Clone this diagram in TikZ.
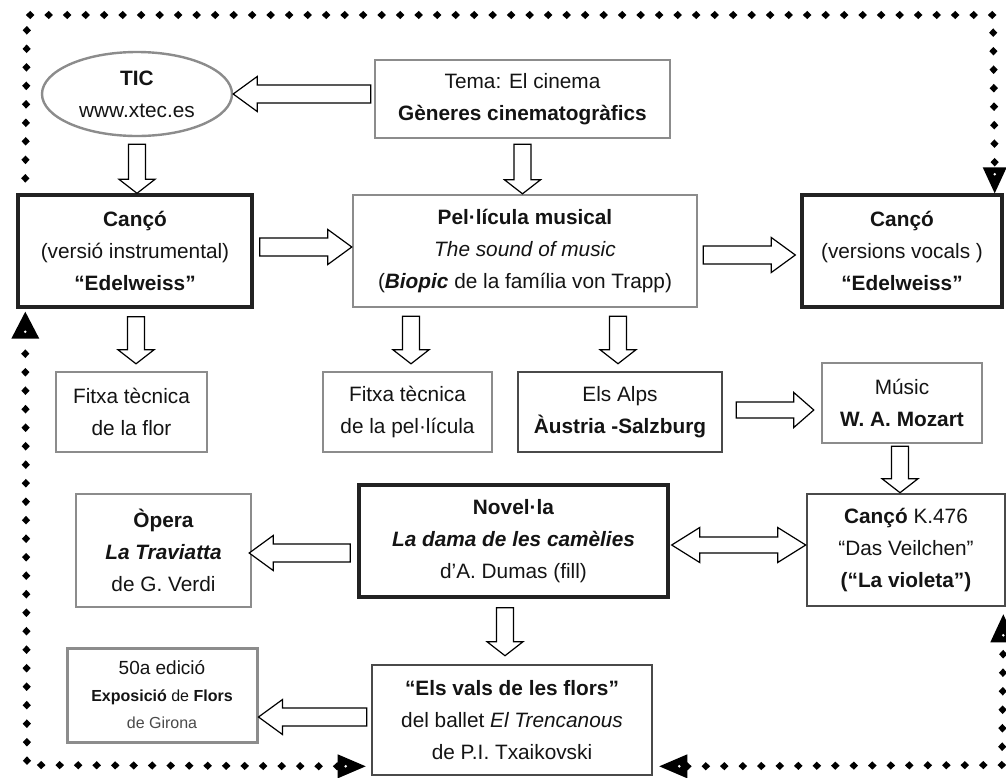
\documentclass[tikz,border=0pt]{standalone}
\usepackage{fontspec}
\setmainfont{Liberation Sans}
\usetikzlibrary{calc,shapes.geometric,decorations.markings}
\definecolor{boxgray}{HTML}{8C8C8C}
\definecolor{boxdark}{HTML}{222222}
\definecolor{boxmid}{HTML}{4A4A4A}
\definecolor{txt}{HTML}{141414}
\begin{document}
\begin{tikzpicture}[x=1pt,y=-1pt,
  every node/.style={inner sep=0pt, align=center, text=txt, font=\fontsize{20.8}{32}\selectfont},
  grbox/.style={draw=boxgray, line width=2.4pt, rectangle},
  dkbox/.style={draw=boxdark, line width=3.4pt, rectangle},
  mdbox/.style={draw=boxmid, line width=2.6pt, rectangle},
  blockarrow/.style n args={3}{draw=black, fill=white, line width=1.2pt, line join=miter,
    to path={let \p1=(\tikztostart), \p2=(\tikztotarget), \p3=($(\p2)!#3!(\p1)$) in
      ($(\p1)!#1!-90:(\p2)$) -- ($(\p3)!#1!-90:(\p2)$) -- ($(\p3)!#2!-90:(\p2)$) -- (\p2)
      -- ($(\p3)!#2!90:(\p2)$) -- ($(\p3)!#1!90:(\p2)$) -- ($(\p1)!#1!90:(\p2)$) -- cycle}},
  harrow/.style={blockarrow={9pt}{17.5pt}{24pt}},
  varrow/.style={blockarrow={8.5pt}{18pt}{14pt}},
  dblarrow/.style={draw=black, fill=white, line width=1.2pt, line join=miter,
    to path={let \p1=(\tikztostart), \p2=(\tikztotarget), \p3=($(\p2)!28pt!(\p1)$), \p4=($(\p1)!28pt!(\p2)$) in
      (\p1) -- ($(\p4)!17.5pt!-90:(\p2)$) -- ($(\p4)!8pt!-90:(\p2)$) -- ($(\p3)!8pt!-90:(\p2)$)
      -- ($(\p3)!17.5pt!-90:(\p2)$) -- (\p2) -- ($(\p3)!17.5pt!90:(\p2)$) -- ($(\p3)!8pt!90:(\p2)$)
      -- ($(\p4)!8pt!90:(\p2)$) -- ($(\p4)!17.5pt!90:(\p2)$) -- cycle}},
  dotline/.style={decorate, decoration={markings,
    mark=between positions 0 and 1 step 18.5pt with {\fill[black] (-4.3pt,0)--(0,4.1pt)--(4.3pt,0)--(0,-4.1pt)--cycle;}}},
  tipfill/.style={fill=black}
]
\useasboundingbox[fill=white] (0,0) rectangle (1006,777);

% nodes
\node[grbox, ellipse, minimum width=190pt, minimum height=84pt] (tic) at (137,94)
  {\textbf{TIC}\\www.xtec.es};
\node[grbox, minimum width=295pt, minimum height=78pt] (tema) at (522.5,99)
  {Tema: El cinema\\\textbf{Gèneres cinematogràfics}};
\node[dkbox, minimum width=234pt, minimum height=112pt] (cancoL) at (135,251)
  {\textbf{Cançó}\\(versió instrumental)\\\textbf{“Edelweiss”}};
\node[grbox, minimum width=344pt, minimum height=112pt] (pel) at (525,251)
  {\textbf{Pel·lícula musical}\\\textit{The sound of music}\\(\textbf{\textit{Biopic}} de la família von Trapp)};
\node[dkbox, minimum width=200pt, minimum height=112pt] (cancoR) at (902,251)
  {\textbf{Cançó}\\(versions vocals )\\\textbf{“Edelweiss”}};
\node[grbox, minimum width=151pt, minimum height=80pt] (fflor) at (131.5,412)
  {Fitxa tècnica\\de la flor};
\node[grbox, minimum width=169pt, minimum height=80pt] (fpel) at (407.5,412)
  {Fitxa tècnica\\de la pel·lícula};
\node[mdbox, minimum width=204pt, minimum height=80pt] (alps) at (620,412)
  {Els Alps\\\textbf{Àustria -Salzburg}};
\node[grbox, minimum width=160pt, minimum height=80pt] (music) at (902,403)
  {Músic\\\textbf{W. A. Mozart}};
\node[mdbox, minimum width=198pt, minimum height=112pt] (k476) at (906,550)
  {\textbf{Cançó} K.476\\“Das Veilchen”\\\textbf{(“La violeta”)}};
\node[dkbox, minimum width=309pt, minimum height=112pt] (novel) at (513.5,541)
  {\textbf{Novel·la}\\\textbf{\textit{La dama de les camèlies}}\\d’A. Dumas (fill)};
\node[grbox, minimum width=175pt, minimum height=113pt] (opera) at (163.5,550.5)
  {\textbf{Òpera}\\\textbf{\textit{La Traviatta}}\\de G. Verdi};
\node[mdbox, minimum width=280pt, minimum height=110pt] (vals) at (512,720)
  {\textbf{“Els vals de les flors”}\\del ballet \textit{El Trencanous}\\de P.I. Txaikovski};
\node[grbox, line width=3pt, minimum width=190pt, minimum height=94pt, font=\fontsize{19}{27}\selectfont] (expo) at (162,695)
  {50a edició\\{\fontsize{16}{25}\selectfont\textbf{Exposició} de \textbf{Flors}}\\{\fontsize{16}{25}\selectfont\color{boxmid}de Girona}};

% block arrows
\draw[harrow] ($(tema.west|-tic.east)+(-3,0)$) to (tic.east);
\draw[varrow] ($(tic.south)+(0,7)$) to (tic.south|-cancoL.north);
\draw[varrow] ($(tema.south)+(0,5)$) to (tema.south|-pel.north);
\draw[harrow] ($(cancoL.east)+(6,-4)$) to ($(pel.west)+(0,-4)$);
\draw[harrow] ($(pel.east)+(5,4)$) to ($(cancoR.west)+(-5,4)$);
\draw[varrow] ($(cancoL.south)+(1,8)$) to ($(fflor.north)+(4.5,-7)$);
\draw[varrow] ($(pel.south-|fpel.north)+(3.5,8)$) to ($(fpel.north)+(3.5,-7)$);
\draw[varrow] ($(pel.south-|alps.north)+(-2,8)$) to ($(alps.north)+(-2,-7)$);
\draw[blockarrow={8pt}{17.5pt}{20pt}] ($(alps.east)+(13,-2)$) to ($(music.west)+(-7,7)$);
\draw[varrow] ($(music.south)+(-2,2)$) to ($(music.south|-k476.north)+(-2,0)$);
\draw[dblarrow] ($(novel.east)+(2,4)$) to ($(k476.west)+(0,-5)$);
\draw[harrow] ($(novel.west)+(-7,12)$) to ($(opera.east)+(-3,2.5)$);
\draw[varrow] ($(novel.south)+(-8.5,9)$) to ($(vals.north)+(-7,-8)$);
\draw[harrow] ($(vals.west)+(-4,-3)$) to ($(expo.east)+(0,22)$);

% dotted loops
\coordinate (tl) at (27,15);
\coordinate (tr) at (993,15);
\coordinate (s1) at ($(cancoL.north west)+(9,-15)$);
\coordinate (e1) at ($(cancoR.north east)+(-9,0)$);
\path[dotline] (s1) -- (tl) -- (tr) -- ($(e1)+(0,-26)$);
\fill[tipfill] (e1) -- ++(-12,-26) -- ++(24,0) -- cycle;
\fill[white] ($(e1)+(0,-19)$) circle (1.4pt);

\coordinate (bl) at (27,765);
\coordinate (br) at (1002,765);
\coordinate (e2) at ($(cancoL.south west)+(9,3)$);
\coordinate (e3) at ($(vals.south west)+(-5,-10)$);
\coordinate (e4) at ($(vals.south east)+(6,-10)$);
\coordinate (e5) at ($(k476.south east)+(-3,7)$);
\path[dotline] ($(e2)+(0,42)$) -- (bl) -- ($(e3)+(-28,0)$);
\fill[tipfill] (e2) -- ++(-14,27) -- ++(28,0) -- cycle;
\fill[white] ($(e2)+(0,20)$) circle (1.4pt);
\fill[tipfill] (e3) -- ++(-28,-12) -- ++(0,24) -- cycle;
\fill[white] ($(e3)+(-20,0)$) circle (1.4pt);

\path[dotline] ($(e4)+(28,0)$) -- (br) -- ($(e5)+(0,28)$);
\fill[tipfill] (e4) -- ++(28,-12) -- ++(0,24) -- cycle;
\fill[white] ($(e4)+(20,0)$) circle (1.4pt);
\fill[tipfill] (e5) -- ++(-13,28) -- ++(26,0) -- cycle;
\fill[white] ($(e5)+(0,21)$) circle (1.4pt);
\end{tikzpicture}
\end{document}
